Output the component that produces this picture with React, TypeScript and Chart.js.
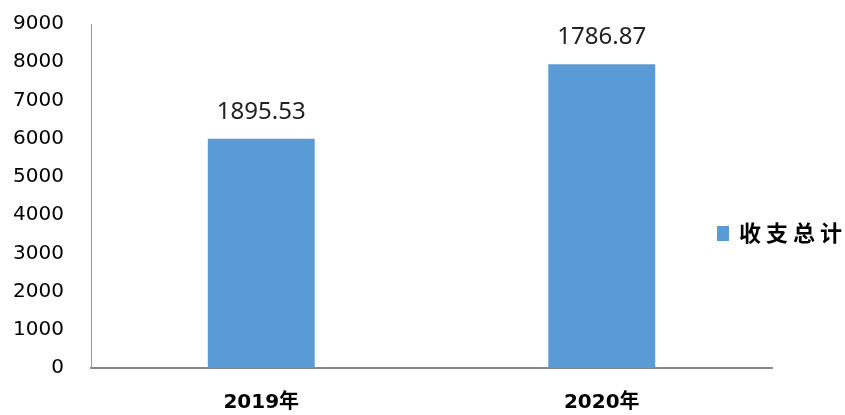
import React, { useEffect, useRef } from "react";
import { Chart, registerables } from "chart.js";

Chart.register(...registerables);

const categories = ["2019年", "2020年"];
const barValues = [6000, 7950];
const barLabels = ["1895.53", "1786.87"];
const seriesName = "收支总计";
const yTicks = [0, 1000, 2000, 3000, 4000, 5000, 6000, 7000, 8000, 9000];

const BLUE = "#5B9BD5";

const labelPlugin = {
  id: "barLabels",
  afterDatasetsDraw(chart: any) {
    const ctx = chart.ctx;
    const meta = chart.getDatasetMeta(0);
    ctx.save();
    ctx.font = "24px 'Noto Sans', sans-serif";
    ctx.fillStyle = "#222";
    ctx.textAlign = "center";
    ctx.textBaseline = "alphabetic";
    meta.data.forEach((bar: any, i: number) => {
      ctx.fillText(barLabels[i], bar.x, bar.y - 20);
    });
    ctx.restore();
  },
};

const legendPlugin = {
  id: "sideLegend",
  afterDraw(chart: any) {
    const ctx = chart.ctx;
    const area = chart.chartArea;
    const x = area.right - 55;
    const y = 233;
    ctx.save();
    ctx.fillStyle = BLUE;
    ctx.fillRect(x, y - 7, 12, 15);
    ctx.fillStyle = "#000";
    ctx.font = "bold 22px 'Noto Sans CJK SC', sans-serif";
    ctx.textAlign = "left";
    ctx.textBaseline = "middle";
    try {
      (ctx as any).letterSpacing = "5px";
    } catch (e) {}
    ctx.fillText(seriesName, x + 22, y);
    ctx.restore();
  },
};

export default function App() {
  const ref = useRef<HTMLCanvasElement>(null);
  useEffect(() => {
    if (!ref.current) return;
    const chart = new Chart(ref.current, {
      type: "bar",
      data: {
        labels: categories,
        datasets: [
          {
            label: seriesName,
            data: barValues,
            backgroundColor: BLUE,
            borderWidth: 0,
            categoryPercentage: 1,
            barPercentage: 0.314,
          },
        ],
      },
      options: {
        animation: false,
        responsive: false,
        maintainAspectRatio: false,
        layout: { padding: { top: 24, right: 73, bottom: 0, left: 0 } },
        plugins: {
          legend: { display: false },
          tooltip: { enabled: false },
        },
        scales: {
          x: {
            grid: { display: false, drawTicks: false },
            border: { display: true, color: "#888", width: 2 },
            ticks: {
              color: "#000",
              padding: 23,
              font: { family: "'DejaVu Sans', 'Noto Sans CJK SC', sans-serif", size: 20, weight: "bold" },
            },
            afterFit(scale: any) {
              scale.height = 47;
            },
          },
          y: {
            min: 0,
            max: 9000,
            grid: { display: false, drawTicks: false },
            border: { display: true, color: "#999", width: 1 },
            afterBuildTicks(scale: any) {
              scale.ticks = yTicks.map((v) => ({ value: v }));
            },
            ticks: {
              color: "#000",
              padding: 27,
              font: { family: "'DejaVu Sans', sans-serif", size: 20 },
              callback: (v: any) => String(v),
            },
            afterFit(scale: any) {
              scale.width = 91;
              scale.paddingTop = 0;
              scale.paddingBottom = 0;
            },
          },
        },
      },
      plugins: [labelPlugin, legendPlugin],
    });
    return () => chart.destroy();
  }, []);
  return (
    <div style={{ position: "absolute", left: 0, top: 0, width: 845, height: 415, background: "#fff" }}>
      <canvas ref={ref} width={845} height={415} style={{ display: "block" }} />
    </div>
  );
}
